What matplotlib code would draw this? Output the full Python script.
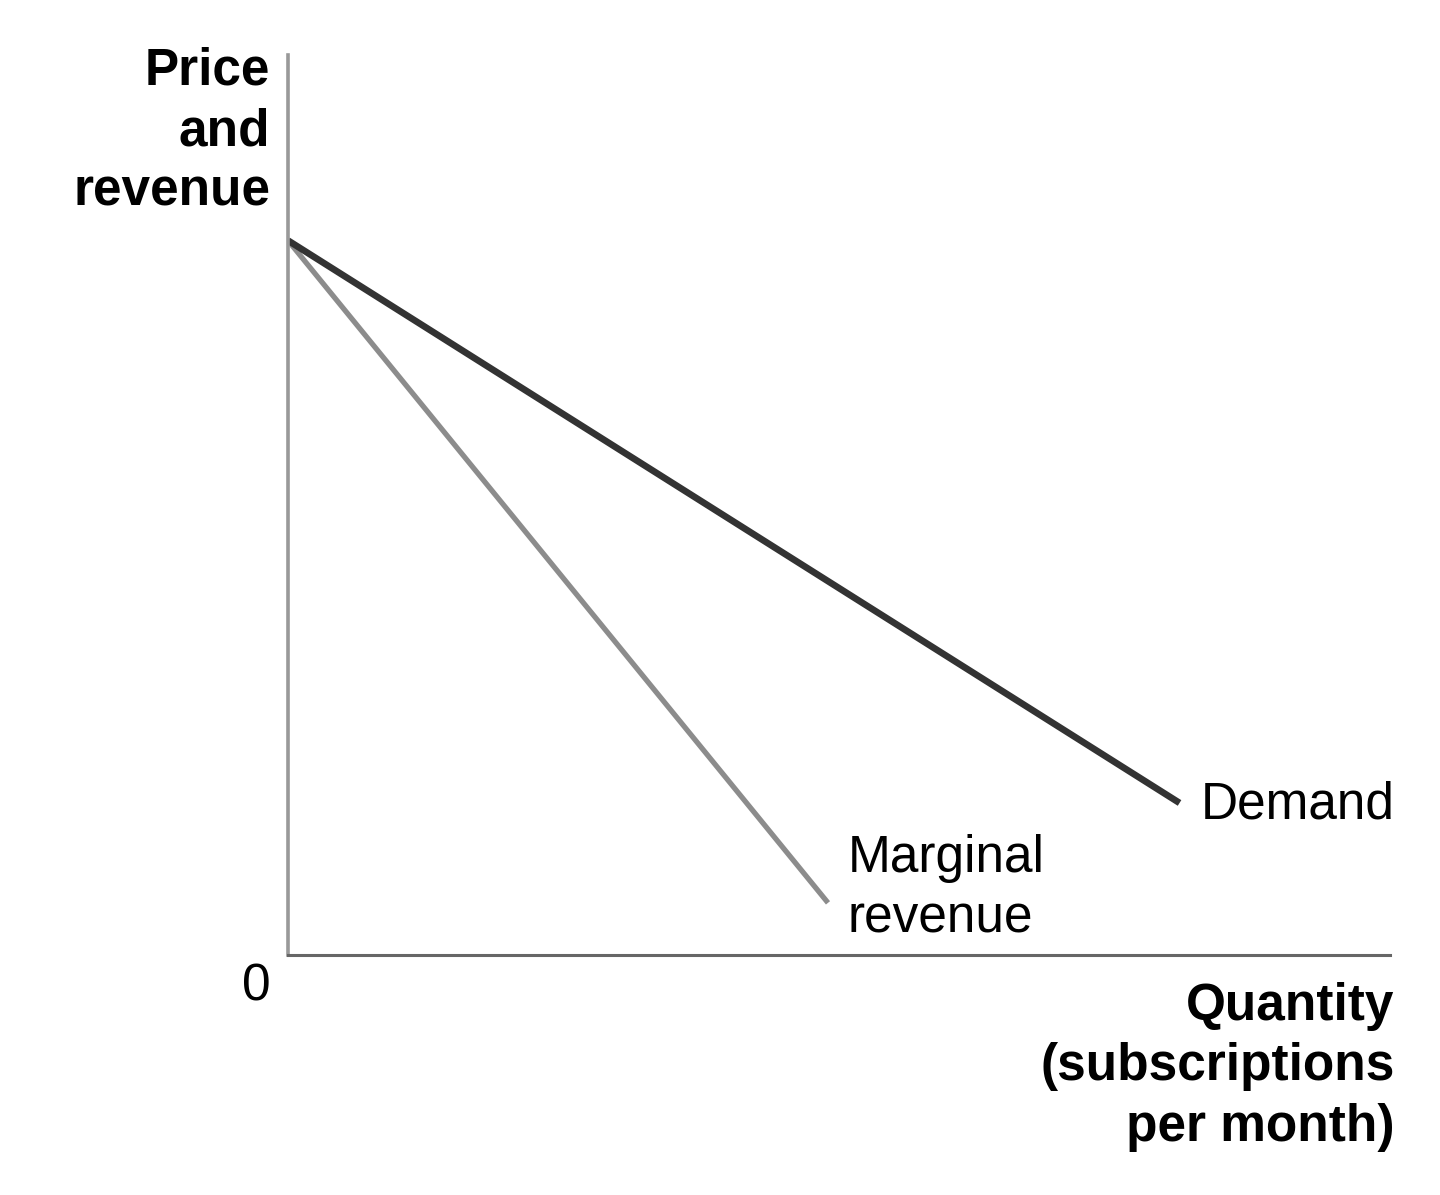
import matplotlib
matplotlib.use('Agg')
from matplotlib import pyplot as plt

plt.rcParams['font.family'] = ['Liberation Sans', 'DejaVu Sans']

# Curve endpoints (axis units, 0-100)
demand_q = [0, 80.9]
demand_p = [79.4, 16.9]
mr_q = [0, 49.0]
mr_p = [79.4, 5.8]

fig = plt.figure(figsize=(14.4, 11.95), dpi=100)
ax = fig.add_axes([0.2, 0.2008, 0.7653, 0.7531])
ax.set_xlim(0, 100)
ax.set_ylim(0, 100)

ax.plot(mr_q, mr_p, color='#8c8c8c', lw=3.8, solid_capstyle='butt')
ax.plot(demand_q, demand_p, color='#333333', lw=4.8, solid_capstyle='butt')

for s in ['top', 'right']:
    ax.spines[s].set_visible(False)
ax.spines['left'].set_color('#999999')
ax.spines['left'].set_linewidth(2.6)
ax.spines['bottom'].set_color('#666666')
ax.spines['bottom'].set_linewidth(2.2)
ax.set_xticks([])
ax.set_yticks([])

fs = 37
ax.text(-1.6, 100.9, 'Price\nand\nrevenue', ha='right', va='top', fontsize=fs,
        fontweight='bold', linespacing=1.3, clip_on=False)
ax.text(-2.9, -3.6, '0', ha='center', va='center', fontsize=fs, clip_on=False)
ax.text(82.8, 16.7, 'Demand', ha='left', va='center', fontsize=fs)
ax.text(50.8, 7.4, 'Marginal\nrevenue', ha='left', va='center', fontsize=fs,
        linespacing=1.3)
ax.text(100.4, -3.0, 'Quantity\n(subscriptions\nper month)', ha='right', va='top',
        fontsize=fs, fontweight='bold', linespacing=1.3, clip_on=False)

fig.savefig('out.png', dpi=100)
